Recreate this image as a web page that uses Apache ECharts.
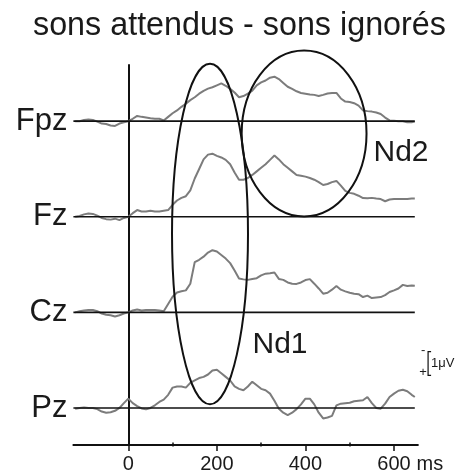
<!DOCTYPE html>
<html><head><meta charset="utf-8">
<script src="https://cdn.jsdelivr.net/npm/echarts@6/dist/echarts.min.js"></script>
<style>html,body{margin:0;padding:0;background:#fff}#c{width:459px;height:474px}</style>
</head><body><div id="c"></div>
<script>
// ---- data (μV, negative = up, EEG convention) ----
const titleText = 'sons attendus - sons ignorés';
const channels = ['Fpz', 'Fz', 'Cz', 'Pz'];
const times = [-120,-110,-100,-90,-80,-70,-60,-50,-40,-30,-20,-10,
  0,10,20,30,40,50,60,70,80,90,100,110,120,130,140,150,160,170,180,190,
  200,210,220,230,240,250,260,270,280,290,300,310,320,330,340,350,360,370,380,390,
  400,410,420,430,440,450,460,470,480,490,500,510,520,530,540,550,560,570,580,590,
  600,610,620,630,640,647];
const fpz = [0.0,0.0,-0.05,-0.07,-0.05,0.02,0.1,0.12,0.18,0.2,0.1,0.05,
  0.0,-0.1,-0.22,-0.18,-0.15,-0.12,-0.1,-0.1,-0.03,-0.18,
  -0.33,-0.45,-0.6,-0.73,-0.88,-1.0,-1.15,-1.27,-1.36,-1.42,
  -1.5,-1.58,-1.48,-1.35,-1.2,-1.0,-1.05,-1.15,-1.28,-1.5,
  -1.62,-1.7,-1.82,-1.86,-1.76,-1.6,-1.44,-1.35,-1.25,-1.18,
  -1.15,-1.12,-1.1,-1.05,-1.1,-1.16,-1.18,-1.18,-0.95,-0.82,
  -0.8,-0.75,-0.65,-0.45,-0.42,-0.4,-0.36,-0.3,-0.15,-0.03,
  -0.02,0.0,0.0,0.05,0.05,0.02];
const fz = [0.0,-0.03,-0.1,-0.14,-0.12,-0.05,0.05,0.1,0.12,0.08,0.14,0.05,
  0.0,-0.15,-0.28,-0.22,-0.22,-0.25,-0.22,-0.22,-0.25,-0.28,
  -0.5,-0.68,-0.79,-0.86,-1.1,-1.6,-2.0,-2.4,-2.6,-2.64,
  -2.55,-2.48,-2.38,-2.2,-1.85,-1.55,-1.55,-1.62,-1.75,-1.9,
  -2.05,-2.2,-2.38,-2.56,-2.4,-2.2,-2.05,-1.9,-1.75,-1.72,
  -1.68,-1.62,-1.55,-1.45,-1.33,-1.37,-1.45,-1.5,-1.3,-1.08,
  -1.0,-0.96,-0.88,-0.78,-0.77,-0.79,-0.76,-0.74,-0.65,-0.72,
  -0.74,-0.74,-0.74,-0.74,-0.76,-0.76];
const cz = [0.0,-0.05,-0.08,-0.1,-0.1,-0.05,0.05,0.1,0.12,0.17,0.12,0.05,
  0.0,-0.08,-0.12,-0.08,-0.1,-0.1,-0.1,-0.08,-0.05,-0.35,
  -0.65,-0.83,-0.88,-0.92,-1.2,-2.1,-2.2,-2.33,-2.5,-2.6,
  -2.55,-2.4,-2.25,-2.06,-1.75,-1.42,-1.38,-1.36,-1.4,-1.43,
  -1.55,-1.62,-1.64,-1.67,-1.4,-1.36,-1.25,-1.2,-1.19,-1.25,
  -1.35,-1.39,-1.2,-1.0,-0.78,-0.82,-0.95,-1.1,-0.95,-0.88,
  -0.82,-0.78,-0.76,-0.64,-0.7,-0.6,-0.62,-0.64,-0.72,-0.85,
  -0.92,-1.0,-1.15,-1.1,-1.12,-1.11];
const pz = [0.03,0.0,-0.02,0.0,0.0,0.05,0.15,0.2,0.18,0.12,0.0,-0.2,
  -0.39,-0.2,-0.08,0.02,0.06,0.0,-0.11,-0.25,-0.35,-0.55,
  -0.85,-0.9,-0.9,-0.85,-1.05,-1.15,-1.25,-1.3,-1.4,-1.57,
  -1.6,-1.45,-1.3,-1.15,-0.9,-0.8,-0.74,-0.9,-1.1,-0.95,
  -0.8,-0.74,-0.6,-0.3,0.03,0.2,0.3,0.2,0.05,-0.15,
  -0.39,-0.39,-0.15,0.2,0.44,0.4,0.33,-0.11,-0.18,-0.2,
  -0.22,-0.28,-0.3,-0.32,-0.46,-0.2,0.0,0.03,-0.18,-0.46,
  -0.6,-0.72,-0.76,-0.7,-0.55,-0.46];
const waves = [fpz, fz, cz, pz];
const xTickValues = [0, 200, 400, 600];
const xMinorTickValues = [100, 300, 500];
const xUnit = 'ms';
const baselineSpan = [-124, 647];
// annotations in data units (ms, μV)
const ellipses = [
  {name: 'Nd1', cx: 184.5, cy: 4.72, rx: 85.8, ry: 7.125, tx: 342.6, ty: 9.34},
  {name: 'Nd2', cx: 397, cy: 0.515, rx: 141, ry: 3.47, tx: 615.8, ty: 1.32}
];
const scaleBar = {x: 677, from: 9.64, to: 10.64, label: '1\u03bcV'};

// ---- chart ----
const SPACING = 4;
const X_MIN = -124, X_MAX = 654, Y_MIN = -2.35, Y_MAX = 13.55;
const FONT = 'Liberation Sans, Arial, Helvetica, sans-serif';
const gridRect = {left: 73.4, top: 65, width: 344.5, height: 381.6};

const chart = echarts.init(document.getElementById('c'), null, {renderer: 'canvas'});

const series = [];
waves.forEach((w, k) => {
  series.push({
    type: 'line', xAxisIndex: 0, yAxisIndex: 0, symbol: 'none', silent: true, z: 2,
    data: times.map((t, i) => [t, k * SPACING + w[i]]),
    lineStyle: {color: '#7c7c7c', width: 2}
  });
  series.push({
    type: 'line', xAxisIndex: 0, yAxisIndex: 0, symbol: 'none', silent: true, z: 3,
    data: baselineSpan.map(t => [t, k * SPACING]),
    lineStyle: {color: '#111', width: 1.6}
  });
});

chart.setOption({
  animation: false,
  backgroundColor: '#fff',
  textStyle: {fontFamily: FONT},
  title: {
    text: titleText, left: 33, top: 10, padding: 0,
    textStyle: {fontSize: 32.3, fontWeight: 'normal', color: '#1a1a1a', fontFamily: FONT}
  },
  grid: [
    Object.assign({}, gridRect),
    Object.assign({}, gridRect)
  ],
  xAxis: [
    {
      type: 'value', gridIndex: 0, min: X_MIN, max: X_MAX, position: 'bottom',
      axisLine: {show: true, onZero: false, lineStyle: {color: '#111', width: 2}},
      axisTick: {show: true, length: 6, customValues: xTickValues, lineStyle: {color: '#111', width: 1.5}},
      axisLabel: {show: true, customValues: xTickValues, fontSize: 20, color: '#1a1a1a', margin: 9, fontFamily: FONT},
      splitLine: {show: false},
      name: xUnit, nameLocation: 'end', nameGap: -3,
      nameTextStyle: {fontSize: 20, color: '#1a1a1a', verticalAlign: 'top', align: 'left', padding: [9, 0, 0, 0], fontFamily: FONT}
    },
    {
      type: 'value', gridIndex: 1, min: X_MIN, max: X_MAX, position: 'bottom',
      axisLine: {show: false, onZero: false},
      axisTick: {show: true, inside: true, length: 4, customValues: xMinorTickValues, lineStyle: {color: '#111', width: 1.5}},
      axisLabel: {show: false},
      splitLine: {show: false}
    }
  ],
  yAxis: [
    {
      type: 'value', gridIndex: 0, min: Y_MIN, max: Y_MAX, inverse: true, position: 'left',
      axisLine: {show: true, onZero: true, lineStyle: {color: '#111', width: 2}},
      axisTick: {show: false}, axisLabel: {show: false}, splitLine: {show: false}
    },
    {
      type: 'value', gridIndex: 0, min: Y_MIN, max: Y_MAX, inverse: true, position: 'left',
      axisLine: {show: false, onZero: false},
      axisTick: {show: false}, splitLine: {show: false},
      axisLabel: {
        show: true, customValues: channels.map((c, k) => k * SPACING),
        formatter: v => channels[Math.round(v / SPACING)],
        fontSize: 31, color: '#1a1a1a', margin: 6, padding: [7, 0, 0, 0], fontFamily: FONT
      }
    },
    {type: 'value', gridIndex: 1, min: Y_MIN, max: Y_MAX, inverse: true, show: false}
  ],
  series: series
});

function P(x, y) { return chart.convertToPixel({xAxisIndex: 0, yAxisIndex: 0}, [x, y]); }

const graphics = [];
ellipses.forEach(e => {
  const c = P(e.cx, e.cy);
  const rxp = Math.abs(P(e.cx + e.rx, e.cy)[0] - c[0]);
  const ryp = Math.abs(P(e.cx, e.cy + e.ry)[1] - c[1]);
  graphics.push({type: 'ellipse', shape: {cx: c[0], cy: c[1], rx: rxp, ry: ryp},
    style: {fill: 'none', stroke: '#111', lineWidth: 2}, z: 10, silent: true});
  const t = P(e.tx, e.ty);
  graphics.push({type: 'text', x: t[0], y: t[1], z: 10, silent: true,
    style: {text: e.name, fill: '#1a1a1a', align: 'center', verticalAlign: 'middle', font: '30px ' + FONT}});
});
const sT = P(scaleBar.x, scaleBar.from), sB = P(scaleBar.x, scaleBar.to);
graphics.push({type: 'polyline', shape: {points: [[sT[0] + 3, sT[1]], [sT[0], sT[1]], [sB[0], sB[1]], [sB[0] + 3, sB[1]]]},
  style: {fill: 'none', stroke: '#111', lineWidth: 1.2}, z: 10, silent: true});
graphics.push({type: 'text', x: sT[0] + 3, y: (sT[1] + sB[1]) / 2, z: 10, silent: true,
  style: {text: scaleBar.label, font: '13px ' + FONT, fill: '#1a1a1a', align: 'left', verticalAlign: 'middle'}});
graphics.push({type: 'text', x: sT[0] - 5, y: sT[1] - 1, z: 10, silent: true,
  style: {text: '-', font: '13px ' + FONT, fill: '#1a1a1a', align: 'center', verticalAlign: 'middle'}});
graphics.push({type: 'text', x: sB[0] - 5, y: sB[1] - 3, z: 10, silent: true,
  style: {text: '+', font: '13px ' + FONT, fill: '#1a1a1a', align: 'center', verticalAlign: 'middle'}});
chart.setOption({graphic: graphics});
</script>
</body></html>
